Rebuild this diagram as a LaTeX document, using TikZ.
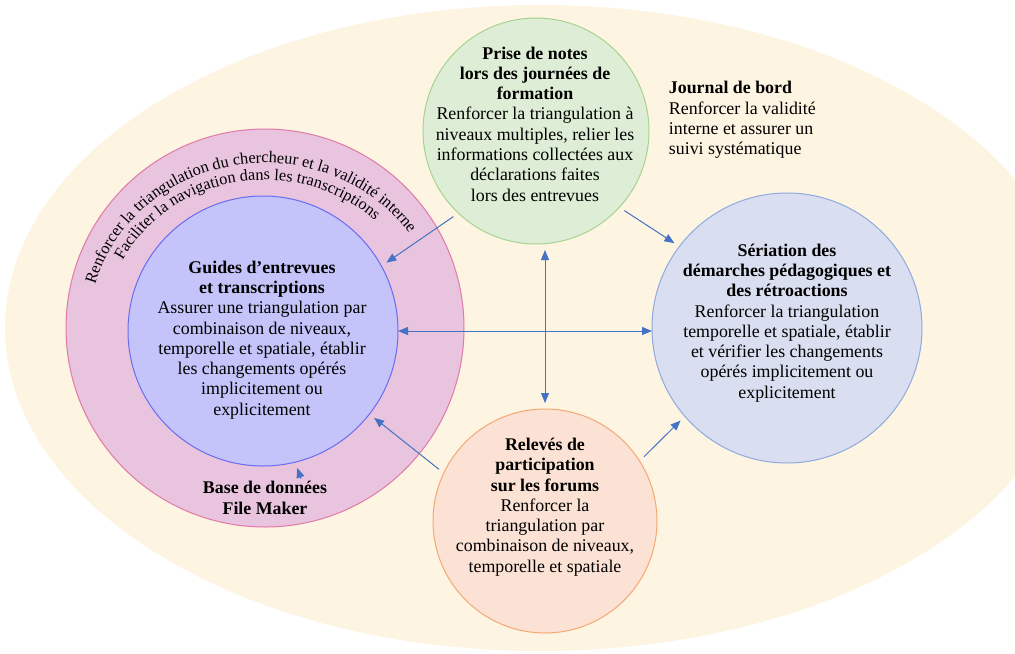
\documentclass[tikz,border=0pt]{standalone}
\usepackage{fontspec}
\setmainfont{Liberation Serif}
\usepackage{tikz}
\usetikzlibrary{arrows.meta, positioning, calc, decorations.text}
\definecolor{cream}{HTML}{FEF4E2}
\definecolor{ringpink}{HTML}{E9C4DE}
\definecolor{ringedge}{HTML}{E07AA8}
\definecolor{guidefill}{HTML}{C4C4FB}
\definecolor{guideedge}{HTML}{6B6BF2}
\definecolor{greenfill}{HTML}{DEEDD5}
\definecolor{greenedge}{HTML}{A6D38F}
\definecolor{greyblue}{HTML}{D9DFF0}
\definecolor{greyedge}{HTML}{8FAADC}
\definecolor{peach}{HTML}{FBE2D5}
\definecolor{peachedge}{HTML}{F4A873}
\definecolor{linkblue}{HTML}{4472C4}
\newcommand{\bodyfont}{\fontsize{13.4}{15.2}\selectfont}
\newcommand{\arcfont}{\fontsize{12.2}{14}\selectfont}
\tikzstyle{bubble} = [circle, line width=0.75pt, inner sep=0pt, outer sep=4.5pt]
\tikzstyle{body} = [align=center, font=\bodyfont, inner sep=2pt]
\tikzstyle{arrow} = [draw=linkblue, line width=0.75pt, -{Triangle[length=7.5pt, width=6pt]}]
\tikzstyle{twoway} = [arrow, {Triangle[length=7.5pt, width=6pt]}-{Triangle[length=7.5pt, width=6pt]}]

\begin{document}
\begin{tikzpicture}[x=0.75pt, y=-0.75pt]
\useasboundingbox (0,0) rectangle (1015,654);

% Background
\fill[cream] (540,328) ellipse [x radius=401.25pt, y radius=242.25pt];

% Left side: ring and interview guides
\node (pink) [bubble, draw=ringedge, fill=ringpink, minimum size=298.5pt] at (265,328) {};
\node (guide) [bubble, draw=guideedge, fill=guidefill, minimum size=202.5pt] at (263,331) {};
\coordinate (ringc) at (265,328);
\path[decorate, decoration={text along path, text align=center,
  text={|\arcfont|Renforcer la triangulation du chercheur et la validité interne}}]
  ($(ringc)+(205:132pt and 123.75pt)$) arc[start angle=205, end angle=-5, x radius=132pt, y radius=123.75pt];
\path[decorate, decoration={text along path, text align=center,
  text={|\arcfont|Faciliter la navigation dans les transcriptions}}]
  ($(ringc)+(195:120pt and 111pt)$) arc[start angle=195, end angle=5, x radius=120pt, y radius=111pt];

% Other sources
\node (prise) [bubble, draw=greenedge, fill=greenfill, minimum size=169.5pt] at (536,131) {};
\node (seriation) [bubble, draw=greyedge, fill=greyblue, minimum size=202.5pt] at (787,328) {};
\node (releve) [bubble, draw=peachedge, fill=peach, minimum size=168pt] at (545,521) {};

% Texts
\node (guidetxt) [body] at (262,340) {\textbf{Guides d’entrevues}\\\textbf{et transcriptions}\\Assurer une triangulation par\\combinaison de niveaux,\\temporelle et spatiale, établir\\les changements opérés\\implicitement ou\\explicitement};
\node (prisetxt) [body] at (535,124) {\textbf{Prise de notes}\\\textbf{lors des journées de}\\\textbf{formation}\\Renforcer la triangulation à\\niveaux multiples, relier les\\informations collectées aux\\déclarations faites\\lors des entrevues};
\node (seriationtxt) [body] at (787,323) {\textbf{Sériation des}\\\textbf{démarches pédagogiques et}\\\textbf{des rétroactions}\\Renforcer la triangulation\\temporelle et spatiale, établir\\et vérifier les changements\\opérés implicitement ou\\explicitement};
\node (relevetxt) [body] at (545,507) {\textbf{Relevés de}\\\textbf{participation}\\\textbf{sur les forums}\\Renforcer la\\triangulation par\\combinaison de niveaux,\\temporelle et spatiale};
\node (journal) [body, align=left, anchor=west] at (666,120) {\textbf{Journal de bord}\\Renforcer la validité\\interne et assurer un\\suivi systématique};
\node (base) [body] at (265,498) {\textbf{Base de données}\\\textbf{File Maker}};

% Arrows
\draw [arrow] (prise.226) -- (guide.29);
\draw [arrow] (prise.318) -- (seriation.143);
\draw [arrow] (releve.154) -- (guide.322);
\draw [arrow] (releve.33) -- (seriation.221);
\draw [arrow] ([xshift=27pt]base.north) -- (guide.284);
\draw [twoway, shorten <=-4.5pt, shorten >=-4.5pt] (guide.east) -- (guide.east -| seriation.west);
\draw [twoway] (releve.north) -- (releve.north |- prise.south);

\end{tikzpicture}
\end{document}
